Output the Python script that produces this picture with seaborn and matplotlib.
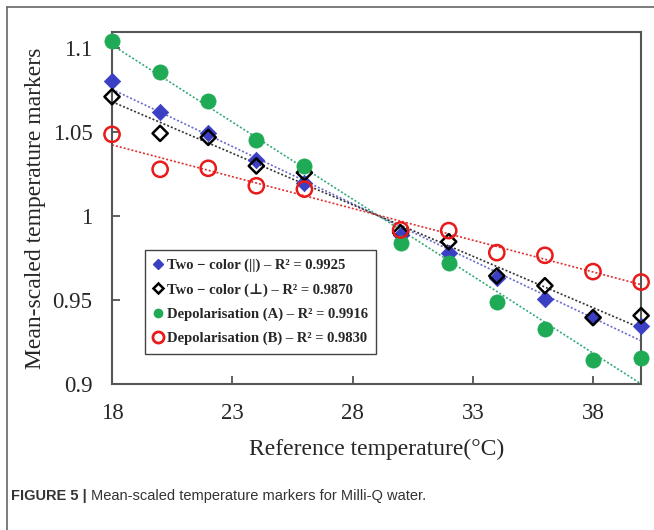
import numpy as np
import pandas as pd
import matplotlib
matplotlib.use("Agg")
import matplotlib.pyplot as plt
from matplotlib.lines import Line2D
import seaborn as sns

# data
temps = [18, 20, 22, 24, 26, 30, 32, 34, 36, 38, 40]
two_color_par = [1.0805, 1.0621, 1.0492, 1.0333, 1.0198, 0.9887, 0.9780, 0.9629, 0.9504, 0.9397, 0.9347]
two_color_perp = [1.0710, 1.0492, 1.0468, 1.0298, 1.0258, 0.9900, 0.9847, 0.9643, 0.9585, 0.9395, 0.9407]
depol_a = [1.1040, 1.0857, 1.0685, 1.0452, 1.0298, 0.9840, 0.9722, 0.9490, 0.9327, 0.9143, 0.9156]
depol_b = [1.0486, 1.0278, 1.0284, 1.0180, 1.0160, 0.9917, 0.9913, 0.9782, 0.9766, 0.9669, 0.9607]

labels = ["Two \u2212 color (||) \u2013 R\u00b2 = 0.9925",
          "Two \u2212 color (\u22a5) \u2013 R\u00b2 = 0.9870",
          "Depolarisation (A) \u2013 R\u00b2 = 0.9916",
          "Depolarisation (B) \u2013 R\u00b2 = 0.9830"]

sns.set_style("ticks")
plt.rcParams['font.family'] = ['Liberation Serif', 'DejaVu Serif']

fig = plt.figure(figsize=(6.54, 5.30), dpi=100)
ax = fig.add_axes([0.1713, 0.2755, 0.809, 0.664])

series = [
    (two_color_par, "D", "#3a3fc4", "#3a3fc4", "#6a6acc", 70, 0.5),
    (two_color_perp, "D", "none", "black", "#333333", 60, 1.8),
    (depol_a, "o", "#1faa55", "#1faa55", "#33aa77", 120, 0.5),
    (depol_b, "o", "none", "#e81a1a", "#e03030", 120, 1.8),
]

# fitted trend lines
for vals, m, fc, ec, lc, s, lw in series:
    sns.regplot(x=temps, y=vals, scatter=False, ci=None, ax=ax,
                line_kws=dict(color=lc, linestyle=(0, (1.2, 1.2)), linewidth=1.2))

for vals, m, fc, ec, lc, s, lw in series:
    sns.scatterplot(x=temps, y=vals, marker=m, s=s, facecolor=fc,
                    edgecolor=ec, linewidth=lw, ax=ax, zorder=3, clip_on=False)

ax.set_xlim(18, 40)
ax.set_ylim(0.9, 1.1095)
ax.set_xticks([18, 23, 28, 33, 38])
ax.set_yticks([0.9, 0.95, 1.0, 1.05, 1.1])
ax.set_yticklabels(["0.9", "0.95", "1", "1.05", "1.1"])
ax.tick_params(direction="in", length=6, width=1.2, color="#444444",
               labelsize=16.5, pad=14)
for sp in ax.spines.values():
    sp.set_color("#555555")
    sp.set_linewidth(1.5)

ax.set_xlabel("Reference temperature(\u00b0C)", fontsize=17, labelpad=10)
ax.set_ylabel("Mean-scaled temperature markers", fontsize=17, labelpad=5)

handles = [
    Line2D([], [], ls="none", marker="D", ms=5, mfc="#3a3fc4", mec="#3a3fc4"),
    Line2D([], [], ls="none", marker="D", ms=5, mfc="none", mec="black", mew=1.8),
    Line2D([], [], ls="none", marker="o", ms=6, mfc="#1faa55", mec="#1faa55"),
    Line2D([], [], ls="none", marker="o", ms=8, mfc="none", mec="#e81a1a", mew=2),
]
leg = ax.legend(handles, labels, loc="upper left", bbox_to_anchor=(0.062, 0.381),
                borderaxespad=0, fancybox=False, edgecolor="#444444",
                framealpha=1, handlelength=0.6, handletextpad=0.3,
                labelspacing=0.75, borderpad=0.6,
                prop=dict(family=['Liberation Serif', 'DejaVu Serif'],
                          weight="bold", size=10.5))
leg.get_frame().set_linewidth(1.0)

# page frame and caption
fig.add_artist(Line2D([0.0107, 0.0107], [0, 0.987], color="#666666", lw=1.2))
fig.add_artist(Line2D([0.0107, 1.0], [0.987, 0.987], color="#666666", lw=1.2))
cap1 = fig.text(0.017, 0.064, "FIGURE 5 |", fontsize=10.5, fontweight="bold",
                color="#333333", family="Liberation Sans", va="center")
fig.add_artist(plt.Annotation("Mean-scaled temperature markers for Milli-Q water.",
                              xy=(1, 0.5), xycoords=cap1, xytext=(3, 0),
                              textcoords="offset points", va="center",
                              fontsize=10.5, color="#333333", family="Liberation Sans"))

fig.savefig("out.png", dpi=100)
